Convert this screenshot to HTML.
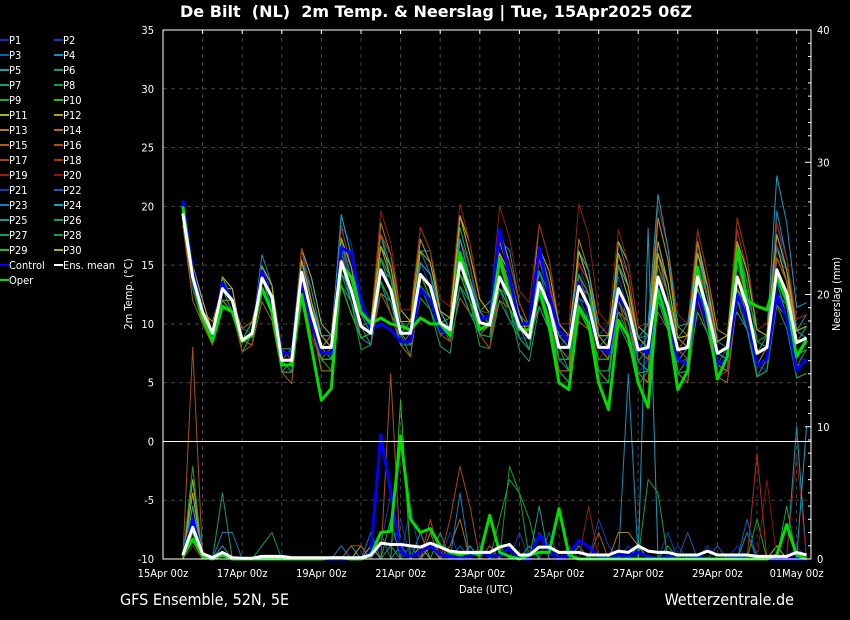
<!DOCTYPE html>
<html><head><meta charset="utf-8">
<style>
html,body{margin:0;padding:0;background:#000;}
svg{display:block;font-family:"DejaVu Sans Condensed","DejaVu Sans","Liberation Sans",sans-serif;}
</style></head>
<body>
<svg id="chart" width="850" height="620" viewBox="0 0 850 620" xmlns="http://www.w3.org/2000/svg">
<rect x="0" y="0" width="850" height="620" fill="#000"/>
<text x="436" y="17" fill="#fff" font-size="16" font-weight="bold" text-anchor="middle" textLength="512" lengthAdjust="spacingAndGlyphs">De Bilt&#160;&#160;(NL)&#160;&#160;2m Temp. &amp; Neerslag | Tue, 15Apr2025 06Z</text>
<g id="grid"></g>
<g id="series"></g>
<g id="axes"></g>
<g id="legend"></g>
<text x="132" y="294" fill="#fff" font-size="11" text-anchor="middle" transform="rotate(-90 132 294)">2m Temp. (°C)</text>
<text x="840" y="294" fill="#fff" font-size="11" text-anchor="middle" transform="rotate(-90 840 294)">Neerslag (mm)</text>
<text x="486" y="593" fill="#fff" font-size="11" text-anchor="middle">Date (UTC)</text>
<text x="120" y="605" fill="#fff" font-size="16">GFS Ensemble, 52N, 5E</text>
<text x="794" y="605" fill="#fff" font-size="16" text-anchor="end">Wetterzentrale.de</text>
</svg>
<script>
// ---- data ----
const tempTicks = [35,30,25,20,15,10,5,0,-5,-10];
const precTicks = [40,30,20,10,0];
const dateLabels = ["15Apr 00z","17Apr 00z","19Apr 00z","21Apr 00z","23Apr 00z","25Apr 00z","27Apr 00z","29Apr 00z","01May 00z"];
const meanTemp = [19.4,14,11,9.2,13,12,8.6,9.2,13.9,12.3,6.9,6.9,14.4,10.9,8,8,15.3,12.9,9.8,9.2,14.6,12.9,9.2,9.2,14.2,13.2,10.1,9.5,15.2,12.9,10.1,9.9,14,12.3,9.8,8.8,13.5,11.5,8,8,13.2,11.5,8,8,13,11.2,7.8,8,14,11.5,7.8,8,14,11.2,7.5,8,14,11.5,7.5,8,14.6,12.6,8.4,8.8];
const controlTemp = [20.5,14.5,11,9,13.5,12,8.5,9,14.5,12,7.5,7.5,13.5,10,7.5,7.5,16.5,16,12,9.5,10,9.5,8.5,8.5,13,12,9.5,9,16,12.5,10.5,10.5,18,14,10,10,16.5,12.5,9.5,8.5,13.5,11,8,7.5,12.5,11,8,7.5,13.5,10,7,6.5,12.5,10,6.5,7,12.5,10.5,6.5,7,12.5,10.5,6,7];
const operTemp = [20,14,10.5,8.5,11.5,11,8.5,9,13,11,6.5,6.5,12.5,8,3.5,4.5,15,14,11,10,10.5,10,9.8,9.5,10.5,10,10,9,16,13,9.5,10,15.5,12.5,9.5,9.5,12.9,9.8,5,4.4,11.5,10,5,2.7,10.3,8.9,5,2.9,12.9,10,4.4,6,14.8,10.6,5.3,7.2,16.3,12,11.5,11.2,14,12,7.2,8.6];
const meanPrec = [0.3,2.4,0.4,0.1,0.5,0.1,0.05,0.05,0.2,0.2,0.2,0.1,0.1,0.1,0.1,0.1,0.1,0.1,0.1,0.3,1.2,1.1,1.1,1,0.9,1.2,0.9,0.6,0.5,0.5,0.5,0.5,0.9,1.1,0.3,0.3,0.9,0.9,0.5,0.5,0.5,0.3,0.3,0.3,0.6,0.5,1,0.6,0.5,0.5,0.3,0.3,0.3,0.6,0.3,0.3,0.3,0.3,0.2,0.2,0.2,0.2,0.5,0.3];
const controlPrec = [0.2,3,0.2,0,0.3,0,0,0,0,0,0,0,0,0,0,0,0,0,0,0.5,9.4,5,0.5,0.2,0.5,1,0.3,0.2,0,0.2,0.5,0.2,0.3,0.8,0,0,1.8,0.5,0,0.3,1.4,0.9,0.2,0,0.3,0.2,0.5,0.2,0,0.2,0,0,0.2,0,0,0,0.2,0,0,0,0,0,0,0];
const operPrec = [0.2,1.5,0.2,0,0.3,0,0,0,0,0,0,0,0,0,0,0.1,0.1,0,0,0.3,2,2.1,9.3,3,2,2.3,1,0.5,0.3,0.5,0.3,3.3,0.5,0.2,0,0.3,0.5,0.5,3.8,0.3,0,0,0,0,0,0,0,0,0,0,0,0,0,0,0,0,0,0,0,0,0.3,2.6,0.3,0];
const memberColors = ["#1030c0","#1040b0","#1060b0","#1090c0","#10a0b0","#10a080","#10a060","#10a040","#10b020","#20c010","#b0b010","#b0a010","#b08010","#b07010","#b06010","#b05010","#b04010","#b03010","#902010","#901010","#1040b0","#1060c0","#1080c0","#10a0c0","#10a090","#10a070","#10a050","#10a030","#20c010","#b0b010"];
// member temperature deviations from the ensemble mean (°C)
const memberTempDev = [
[0,1,0,0,1,0,0,0,1,1,0,1,2,2,1,1,3,4,2,1,2,2,1,0,3,2,1,0,3,2,0,1,3,2,1,1,3,2,1,0,2,1,0,-1,2,2,-1,-2,3,1,0,-1,2,1,-1,-1,3,1,-1,-2,4,2,-1,-2],
[0,0,1,0,0,1,0,-1,0,1,1,0,-1,0,1,0,1,2,0,0,-1,-2,-1,0,1,0,-1,-1,2,1,0,0,1,0,-1,-1,2,1,0,1,-1,0,1,2,1,0,-2,-1,2,1,-1,0,1,2,0,-1,2,0,-1,0,1,2,1,0],
[-1,0,0,1,0,0,1,0,-1,0,1,1,1,1,0,-1,2,1,1,0,0,1,2,1,-1,-1,0,1,2,2,1,0,-1,-2,0,1,3,2,1,0,1,1,2,1,-1,-1,0,1,3,2,1,1,0,-1,-1,0,2,2,1,0,-1,-2,0,1],
[1,1,0,0,1,1,0,0,2,1,-1,-1,1,2,1,0,4,3,1,1,3,2,0,-1,2,3,1,0,1,1,0,0,3,4,2,1,2,1,-1,-2,3,2,0,0,4,3,1,0,2,1,-2,-2,3,2,0,0,1,0,-2,-1,5,3,1,0],
[0,-1,0,0,-1,0,0,1,-1,-1,0,0,-1,-1,0,1,-2,-1,0,0,-2,-1,0,0,-1,-1,-1,0,-2,-2,0,0,-1,-1,0,0,-2,-2,-1,-1,-1,0,0,1,-2,-1,0,1,-2,-2,-1,0,-1,0,1,1,-3,-2,0,0,-2,-1,1,2],
[0,0,0,-1,0,0,-1,-1,1,0,-1,0,2,1,0,-1,3,2,0,-1,3,1,1,1,2,1,1,0,3,2,1,0,2,1,0,-1,1,0,1,1,3,2,1,0,2,1,-1,0,1,0,1,2,3,2,0,-1,1,1,2,1,2,1,0,0],
[1,0,-1,-1,0,0,0,0,1,0,-1,-1,2,3,2,1,2,0,-1,0,1,1,0,-2,1,1,0,-1,2,1,-1,-2,1,2,1,0,2,2,0,-2,1,0,-2,-3,2,1,-1,-2,1,1,-2,-3,2,2,1,0,3,2,1,0,2,1,-2,-1],
[0,-1,-1,0,-1,-1,0,0,0,-1,0,1,0,-1,-1,0,1,-1,-2,-1,-1,-2,0,1,-1,-2,-1,0,0,-1,-2,-2,-2,-2,-1,-1,-1,-2,-2,-3,-2,-1,0,-1,-2,-2,-2,-3,-1,-1,0,-1,-3,-2,-1,-2,-2,-1,0,1,-1,-2,-1,0],
[0,0,0,1,0,0,0,1,0,0,1,1,0,0,-1,-2,-1,0,0,1,0,0,0,1,0,-1,0,1,-1,0,1,2,0,-1,0,0,-1,-1,-2,-2,0,1,1,0,-1,-2,-3,-2,0,-1,-2,-1,-1,0,1,1,0,-1,-2,-2,-1,0,0,1],
[1,0,0,0,1,0,-1,0,1,1,0,0,1,0,-2,-2,0,1,1,1,-1,-1,0,0,0,-1,0,0,0,-1,-1,0,1,0,0,0,-1,-1,-2,-3,-1,-1,-2,-3,-1,-1,-2,-3,0,0,-2,-2,1,0,-1,-1,2,1,2,1,0,-1,-1,0],
[0,1,1,0,0,0,0,0,1,1,0,0,2,3,2,1,3,2,1,1,3,3,2,1,4,3,1,0,4,4,2,1,4,3,2,1,5,4,2,1,3,2,1,0,4,4,2,1,5,4,1,1,3,2,0,0,5,4,2,1,3,2,0,0],
[0,0,0,0,0,1,0,0,1,1,0,0,1,1,1,1,2,1,0,0,2,1,0,0,3,2,1,1,4,3,2,1,3,2,0,0,3,2,1,0,3,3,2,1,2,1,0,-1,3,2,1,0,4,3,2,1,3,1,0,0,2,1,1,1],
[-1,-1,0,0,-1,0,0,0,0,-1,-1,-1,1,0,1,1,2,2,1,0,4,3,1,0,1,1,0,0,1,0,-1,-1,2,1,0,0,3,2,0,-1,4,3,1,0,3,2,0,-1,5,4,2,1,3,1,-1,-2,2,0,-1,0,4,3,1,1],
[0,-1,0,1,0,0,1,1,0,0,0,0,-1,0,0,1,-1,0,1,1,1,1,1,1,0,0,1,1,-1,-1,0,0,1,1,0,1,-1,-1,-2,-2,1,1,0,-1,0,-1,-2,-3,2,1,0,-1,1,0,-1,-2,0,-1,-2,-2,1,1,0,0],
[-1,-2,-1,0,-1,-1,0,-1,-2,-2,-1,-2,-1,-1,-2,-2,-2,-2,-1,-1,-2,-2,-1,-2,-1,-1,-1,-1,-3,-2,-1,-1,-2,-1,0,0,-2,-2,-2,-2,-3,-2,-2,-2,-2,-1,-1,-2,-3,-2,-2,-3,-2,-1,-2,-3,-2,-2,-2,-2,-3,-2,-1,-1],
[1,1,0,0,0,0,0,0,0,0,0,0,1,1,0,0,0,-1,-1,0,1,0,-1,-1,0,0,0,0,1,0,-1,0,0,0,0,0,2,2,2,1,0,0,1,1,2,2,0,-1,-1,-1,0,1,1,1,1,1,0,0,0,0,1,1,2,2],
[0,0,-1,-1,0,-1,-1,-1,0,-1,-1,-1,-1,-2,-1,0,0,0,-1,-1,-2,-2,-1,0,2,1,-1,-1,1,1,-1,-2,-1,-1,-1,0,0,0,-1,-1,1,0,-1,-1,-1,-2,-2,-2,-1,0,0,-1,-2,-2,-2,-2,-1,-1,-1,-1,0,-1,-2,-2],
[0,1,0,0,1,1,0,0,1,1,1,0,2,1,0,0,1,0,0,0,3,3,1,1,2,1,0,0,2,2,1,1,3,3,2,1,2,2,1,1,2,2,2,1,3,3,1,0,2,2,1,1,1,1,1,0,4,3,2,1,3,2,1,1],
[0,0,0,0,0,0,0,0,1,0,0,0,1,1,0,0,3,2,1,1,5,4,2,2,4,3,2,2,5,4,2,1,6,5,3,3,5,4,2,2,7,6,3,2,5,4,2,2,6,5,3,2,4,3,1,1,5,4,2,2,4,3,2,2],
[0,0,0,0,0,0,0,0,0,-1,0,0,0,0,0,0,-1,-1,0,0,0,0,0,0,-1,-1,0,0,0,0,0,0,1,0,0,0,-1,-1,0,0,0,0,-1,0,-1,-1,0,0,1,0,0,0,0,0,-1,-1,1,0,0,0,-1,-1,0,0],
[0,-1,0,0,0,0,0,0,-1,-1,0,0,0,-1,-1,-1,1,1,0,0,1,0,-1,-1,1,1,1,1,-1,-1,0,0,1,1,1,0,0,0,0,0,-1,-1,1,1,0,0,0,0,-1,-1,-1,-1,0,0,0,0,-1,-2,-2,-2,-1,-1,-1,-1],
[1,0,0,0,0,0,0,0,0,0,0,0,1,0,0,0,2,1,1,0,-1,-1,0,0,2,1,0,0,1,0,0,0,-1,-1,-1,0,0,0,0,0,1,1,0,0,-1,-1,0,1,0,0,0,0,2,2,1,0,1,1,0,0,2,2,1,1],
[0,0,0,0,0,0,0,0,-1,0,0,0,0,0,1,1,0,-1,-1,-1,0,1,1,1,-1,-1,0,0,-1,-1,0,0,0,0,0,0,-1,-1,0,0,0,1,1,1,0,0,-1,-2,-1,-1,-1,0,-1,0,1,1,-1,-1,-1,-1,0,0,1,1],
[1,1,0,0,0,0,0,0,1,1,0,0,1,1,0,0,4,3,1,1,2,2,1,0,1,1,1,0,2,1,0,0,2,2,1,1,1,1,1,0,3,3,1,1,2,2,1,2,7,5,2,2,2,1,0,-1,3,3,2,1,8,6,3,3],
[0,0,0,0,0,0,0,0,0,0,0,-1,0,0,0,0,-1,0,0,0,1,0,0,0,0,0,0,0,1,1,1,0,-1,0,1,1,0,-1,-1,-1,1,1,1,1,0,0,1,1,-1,-1,0,0,0,0,1,1,-1,0,1,1,0,0,0,0],
[0,0,0,0,0,-1,0,0,0,-1,-1,-1,-1,-1,-1,-1,-2,-2,-1,0,-1,-1,-1,-1,-2,-2,-2,-2,-2,-2,-1,-1,-1,-1,-2,-2,-2,-2,-1,-1,-2,-2,-3,-3,-1,-1,-2,-2,-2,-2,-2,-2,-3,-2,-1,-1,-1,-1,-2,-2,-2,-2,-3,-3],
[-1,0,0,0,0,0,0,0,-1,0,0,0,-1,-1,0,0,-1,-1,0,0,-1,-1,0,0,-1,-1,0,0,-2,-1,-1,-1,-1,-1,-1,-1,-1,-1,-1,-1,-2,-2,-2,-2,-3,-3,-2,-2,-2,-1,-1,-1,-1,-1,-1,-1,-2,-2,-2,-2,-3,-3,-3,-3],
[0,0,0,0,0,0,0,0,1,1,1,1,0,0,0,0,0,0,0,0,1,1,1,1,0,0,0,0,0,0,0,0,2,2,1,1,0,0,0,0,1,1,0,0,0,0,0,0,1,1,1,1,0,0,0,0,2,2,1,1,0,0,0,0],
[0,0,0,0,-1,-1,0,0,0,0,0,0,-1,-1,-1,-1,-2,-2,-1,0,0,0,0,0,-1,-1,0,0,-1,-1,0,0,-1,-1,0,0,-1,-1,0,0,-2,-2,-1,-1,0,0,0,0,0,0,0,0,-1,-1,-1,-1,-1,-1,0,0,-2,-2,-1,-1],
[0,1,1,0,1,1,0,0,1,1,0,0,1,1,1,0,2,2,1,1,2,2,1,1,2,2,1,1,4,3,2,1,2,2,1,0,3,3,2,1,3,2,1,1,3,2,1,0,2,2,1,1,2,2,1,1,3,3,2,1,3,2,1,1]
];
// member precipitation (mm per 6h)
const memberPrec = [
[0,2,0,0,0,0,0,0,0,0,0,0,0,0,0,0,0,0,0,1,0,1,3,0,1,1,0,2,0,0,1,0,0,1,0,0,2,1,0,0,1,0,0,0,0,1,0,0,0,0,1,0,0,0,0,0,1,0,0,0,0,0,1,0],
[0,3,0,0,0,0,0,0,0,0,0,0,0,0,0,0,0,0,0,0,1,5,1,0,0,2,1,0,0,0,1,0,0,0,2,0,0,0,0,1,0,0,3,1,0,0,0,0,0,2,0,0,0,1,0,0,0,0,0,0,0,0,0,0],
[0,1,0,0,0,0,0,0,0,0,0,0,0,0,0,0,0,0,1,0,2,0,0,1,0,0,0,0,1,0,0,0,0,0,0,0,0,2,0,0,0,0,0,0,0,0,1,0,0,0,0,2,0,0,1,0,0,0,0,0,1,0,0,0],
[0,4,0,0,0,0,0,0,0,0,0,0,0,0,0,0,0,0,0,0,0,0,1,0,0,0,0,0,0,0,0,1,0,0,0,0,0,0,0,0,0,0,0,0,0,14,0,0,0,0,0,0,0,0,0,0,0,2,0,0,0,0,0,0],
[0,5,0,0,1,0,0,0,0,0,0,0,0,0,0,0,0,1,0,0,0,0,0,0,2,0,0,0,0,1,0,0,0,0,0,1,0,0,0,0,0,0,0,0,0,0,1,0,0,0,0,0,0,0,0,0,0,0,0,0,0,0,10,0],
[0,2,0,0,0,0,0,0,0,0,0,0,0,0,0,0,0,0,0,0,0,0,0,0,0,0,2,0,0,0,0,0,1,0,0,0,0,0,0,0,1,0,0,0,0,0,0,0,0,1,0,0,0,0,0,0,0,0,0,0,0,0,0,0],
[0,3,0,0,5,0,0,0,0,0,0,0,0,0,0,0,0,0,0,0,0,1,0,0,0,0,0,0,0,0,0,0,0,0,0,0,0,0,0,0,0,0,0,0,0,0,0,0,0,0,0,0,0,0,0,0,0,0,0,0,0,0,0,0],
[0,2,0,0,0,0,0,0,1,2,0,0,0,0,0,0,0,0,0,0,0,0,0,0,0,0,0,0,0,0,0,0,3,6,5,3,0,0,0,0,0,0,0,0,0,0,0,0,0,0,0,0,0,0,0,0,0,0,0,0,0,0,0,0],
[0,1,0,0,0,0,0,0,0,0,0,0,0,0,0,0,0,0,0,0,0,0,0,0,0,0,0,0,0,0,0,0,0,0,0,0,0,0,0,0,0,0,0,0,0,0,0,0,0,0,0,0,0,0,0,0,0,0,3,0,0,0,0,0],
[0,2,0,0,0,0,0,0,0,0,0,0,0,0,0,0,0,0,0,0,0,0,0,0,0,0,0,0,0,0,0,0,0,0,0,0,0,0,0,0,0,0,0,0,0,0,0,0,0,0,0,0,0,0,0,0,0,0,0,0,0,0,0,0],
[0,6,0,0,0,0,0,0,0,0,0,0,0,0,0,0,0,0,0,1,0,0,0,0,0,1,0,0,0,0,0,0,0,0,0,0,0,0,0,0,0,0,0,0,0,0,0,0,0,0,0,0,0,0,0,0,0,0,0,0,1,0,0,0],
[0,5,0,0,0,0,0,0,0,0,0,0,0,0,0,0,0,0,1,0,0,0,0,0,1,0,0,0,0,0,0,0,0,0,0,0,0,0,0,0,0,0,0,0,0,0,0,0,0,0,0,0,0,0,0,0,0,0,0,0,0,0,0,0],
[0,2,0,0,0,0,0,0,0,0,0,0,0,0,0,0,0,0,0,0,0,0,0,0,0,0,0,0,0,0,0,0,0,0,0,0,0,0,0,0,0,0,0,0,2,2,1,0,0,0,0,0,0,0,0,0,0,0,0,0,0,0,0,0],
[0,3,0,0,0,0,0,0,0,0,0,0,0,0,0,0,0,0,0,0,0,0,0,0,0,2,0,1,3,0,0,0,0,0,0,0,0,0,0,0,0,0,0,0,0,0,0,0,0,0,0,0,0,0,0,0,0,0,0,0,0,0,0,0],
[0,4,0,0,0,0,0,0,0,0,0,0,0,0,0,0,0,0,0,0,0,0,0,0,0,0,0,0,0,0,0,0,0,0,0,0,0,0,0,0,0,0,2,0,0,0,0,0,0,0,0,0,0,0,0,0,0,0,0,0,0,0,0,0],
[0,16,0,0,0,0,0,0,0,0,0,0,0,0,0,0,0,1,1,0,0,14,0,0,0,0,0,0,0,0,0,0,0,0,0,0,0,0,0,0,0,0,0,0,0,0,0,0,0,0,0,0,0,0,0,0,0,0,0,0,0,0,0,0],
[0,2,0,0,0,0,0,0,0,0,0,0,0,0,0,0,0,0,0,0,0,0,0,0,0,3,0,3,7,4,0,1,0,0,0,0,0,0,0,0,0,0,0,0,0,0,0,0,0,0,0,0,0,0,0,0,0,0,0,0,0,0,0,0],
[0,1,0,0,0,0,0,0,0,0,0,0,0,0,0,0,0,0,0,0,0,0,0,0,0,0,0,0,0,0,0,0,0,0,0,0,0,0,0,0,0,0,0,0,0,0,0,0,0,0,0,0,0,0,0,0,0,0,8,0,0,0,0,0],
[0,2,0,0,0,0,0,0,0,0,0,0,0,0,0,0,0,0,0,0,0,0,0,0,0,0,0,0,0,0,0,0,0,0,0,0,2,0,0,0,0,4,0,0,0,0,0,0,0,0,0,0,0,0,0,0,0,0,0,0,0,0,0,0],
[0,1,0,0,0,0,0,0,0,0,0,0,0,0,0,0,0,0,0,0,0,0,0,0,0,0,0,0,0,0,0,0,0,0,0,0,0,0,0,0,0,0,0,0,0,0,0,0,0,0,0,0,0,0,0,0,0,0,0,6,0,0,8,0],
[0,2,0,0,0,0,0,0,0,0,0,0,0,0,0,0,0,0,0,0,0,0,0,4,0,0,0,0,0,0,0,0,0,0,0,0,0,0,0,0,0,0,0,0,0,0,0,0,0,0,0,0,0,0,0,0,0,0,0,0,0,0,0,0],
[0,2,0,0,0,0,0,0,0,0,0,0,0,0,0,0,0,0,0,0,0,0,0,0,0,0,0,0,0,0,0,0,0,0,0,0,0,0,0,0,0,0,0,0,0,0,0,0,0,0,0,0,0,0,0,0,0,3,0,0,0,0,0,0],
[0,3,0,0,2,2,0,0,0,0,0,0,0,0,0,0,1,0,0,2,0,0,0,0,0,0,0,0,5,0,0,0,0,0,0,0,0,0,0,0,0,0,0,0,0,0,0,0,0,0,0,0,0,0,0,0,0,0,0,0,0,0,0,0],
[0,4,0,0,0,0,0,0,0,0,0,0,0,0,0,0,0,0,0,0,0,0,0,0,0,0,0,0,0,0,0,0,0,0,0,0,0,0,0,0,0,0,0,0,0,0,0,25,0,0,0,0,0,0,0,0,0,0,0,0,0,0,0,10],
[0,2,0,0,0,0,0,0,0,0,0,0,0,0,0,0,0,0,0,0,0,0,0,0,0,0,0,0,0,0,0,0,0,0,0,0,4,0,0,0,0,0,0,0,0,0,0,0,0,0,0,0,0,0,0,0,0,0,0,0,0,0,0,0],
[0,2,0,0,0,0,0,0,0,0,0,0,0,0,0,0,0,0,0,0,0,3,0,0,0,0,0,0,0,0,0,0,0,0,0,0,0,0,0,0,0,0,0,0,0,0,0,0,0,0,0,0,0,0,0,0,0,0,0,0,0,0,0,0],
[0,7,0,0,0,0,0,0,0,0,0,0,0,0,0,0,0,0,0,0,0,0,0,0,0,0,0,0,0,0,0,0,0,0,0,0,0,0,0,0,0,0,0,0,0,0,0,6,5,0,0,0,0,0,0,0,0,0,0,0,0,4,0,0],
[0,3,0,0,0,0,0,0,0,0,0,0,0,0,0,0,0,0,0,0,0,0,0,0,0,0,0,0,0,0,0,0,0,7,5,0,0,0,0,0,0,0,0,0,0,0,0,0,0,0,0,0,0,0,0,0,0,0,0,0,0,0,0,0],
[0,2,0,0,0,0,0,0,0,0,0,0,0,0,0,0,0,0,0,0,0,0,12,0,0,0,0,0,0,0,0,0,0,0,0,0,0,0,0,0,0,0,0,0,0,0,0,0,0,0,0,0,0,0,0,0,0,0,0,0,0,0,0,0],
[0,3,0,0,0,0,0,0,0,0,0,0,0,0,0,0,0,0,0,0,0,0,0,0,0,0,0,0,0,0,0,0,0,0,0,0,0,0,0,0,0,0,0,0,0,0,0,0,0,0,0,0,0,0,0,0,0,0,0,0,0,0,0,0]
];

// ---- scales ----
const X0 = 163, X1 = 811, Y0 = 30, Y1 = 559, PXDAY = 39.6;
const xOf = h => X0 + h / 24 * PXDAY;
const yT = t => Y1 - (t + 10) / 45 * (Y1 - Y0);
const yP = p => Y1 - p / 40 * (Y1 - Y0);
const hourOf = i => 12 + 6 * i;
const NS = "http://www.w3.org/2000/svg";
function mk(tag, attrs, parent) {
  const e = document.createElementNS(NS, tag);
  for (const k in attrs) e.setAttribute(k, attrs[k]);
  parent.appendChild(e);
  return e;
}
const grid = document.getElementById('grid');
const axes = document.getElementById('axes');
const series = document.getElementById('series');
const legend = document.getElementById('legend');

for (let d = 1; d <= 16; d++) {
  const gx = xOf(d * 24);
  const l = mk('line', {x1: gx, x2: gx, y1: Y0, y2: Y1, stroke: '#444', 'stroke-dasharray': '4,4', 'stroke-width': 1}, grid);
  
  
  const tk = mk('line', {x1: gx, x2: gx, y1: Y0, y2: Y0 + 4, stroke: '#fff', 'stroke-width': 1}, axes);
  
  
}
tempTicks.forEach(t => {
  const gy = yT(t);
  if (t !== 35 && t !== -10 && t !== 0) {
    const l = mk('line', {x1: X0, x2: X1, y1: gy, y2: gy, stroke: '#444', 'stroke-dasharray': '4,4', 'stroke-width': 1}, grid);
    
    
  }
  const tx = mk('text', {x: 154, y: gy + 4, fill: '#fff', 'font-size': 11, 'text-anchor': 'end'}, axes);
  tx.textContent = t;
  
  
});
precTicks.forEach(p => {
  const gy = yP(p);
  const tx = mk('text', {x: 817, y: gy + 4, fill: '#fff', 'font-size': 11}, axes);
  tx.textContent = p;
  
  
});
for (let p = 1; p < 40; p++) {
  const gy = yP(p);
  const tk = mk('line', {x1: X1 - (p % 10 === 0 ? 6 : 3), x2: X1, y1: gy, y2: gy, stroke: '#fff', 'stroke-width': 1}, axes);
  
  
}
dateLabels.forEach((s, k) => {
  const tx = mk('text', {x: xOf(k * 48), y: 577, fill: '#fff', 'font-size': 11, 'text-anchor': 'middle'}, axes);
  tx.textContent = s;
  
  
});

function poly(vals, yf, color, w, name) {
  let pts = [];
  for (let i = 0; i < vals.length; i++) pts.push(xOf(hourOf(i)).toFixed(1) + ',' + yf(vals[i] || 0).toFixed(1));
  const p = mk('polyline', {points: pts.join(' '), fill: 'none', stroke: color, 'stroke-width': w, 'stroke-linejoin': 'round'}, series);
  
  
}
memberTempDev.forEach((dev, k) => {
  const vals = [];
  for (let i = 0; i < meanTemp.length; i++) vals.push(meanTemp[i] + (dev[i] || 0));
  poly(vals, yT, memberColors[k], 1, 'temp-line-p' + (k + 1));
});
memberPrec.forEach((vals, k) => {
  poly(vals, yP, memberColors[k], 1, 'precip-line-p' + (k + 1));
});
poly(controlPrec, yP, '#0000ff', 3, 'precip-line-control');
poly(operPrec, yP, '#00dd00', 3, 'precip-line-oper');
poly(meanPrec, yP, '#ffffff', 3, 'precip-line-mean');
poly(controlTemp, yT, '#0000ff', 3, 'temp-line-control');
poly(operTemp, yT, '#00dd00', 3, 'temp-line-oper');
poly(meanTemp, yT, '#ffffff', 3, 'temp-line-mean');

const z = mk('line', {x1: X0, x2: X1, y1: yT(0), y2: yT(0), stroke: '#fff', 'stroke-width': 1}, axes);


const fr = mk('rect', {x: X0, y: Y0, width: X1 - X0, height: Y1 - Y0, fill: 'none', stroke: '#fff', 'stroke-width': 1}, axes);



const legNames = [];
for (let k = 1; k <= 30; k++) legNames.push('P' + k);
legNames.push('Control', 'Ens. mean', 'Oper');
const legColors = memberColors.concat(['#0000ff', '#ffffff', '#00dd00']);
legNames.forEach((n, k) => {
  const col = k % 2, row = Math.floor(k / 2);
  const lx = col ? 54 : 0, ly = 40 + row * 15;
  const g = mk('g', {}, legend);
  
  
  mk('line', {x1: lx, x2: lx + 9, y1: ly, y2: ly, stroke: legColors[k], 'stroke-width': 2}, g);
  const t = mk('text', {x: lx + 9, y: ly + 4, fill: '#fff', 'font-size': 11}, g);
  t.textContent = n;
});
</script>
</body></html>
